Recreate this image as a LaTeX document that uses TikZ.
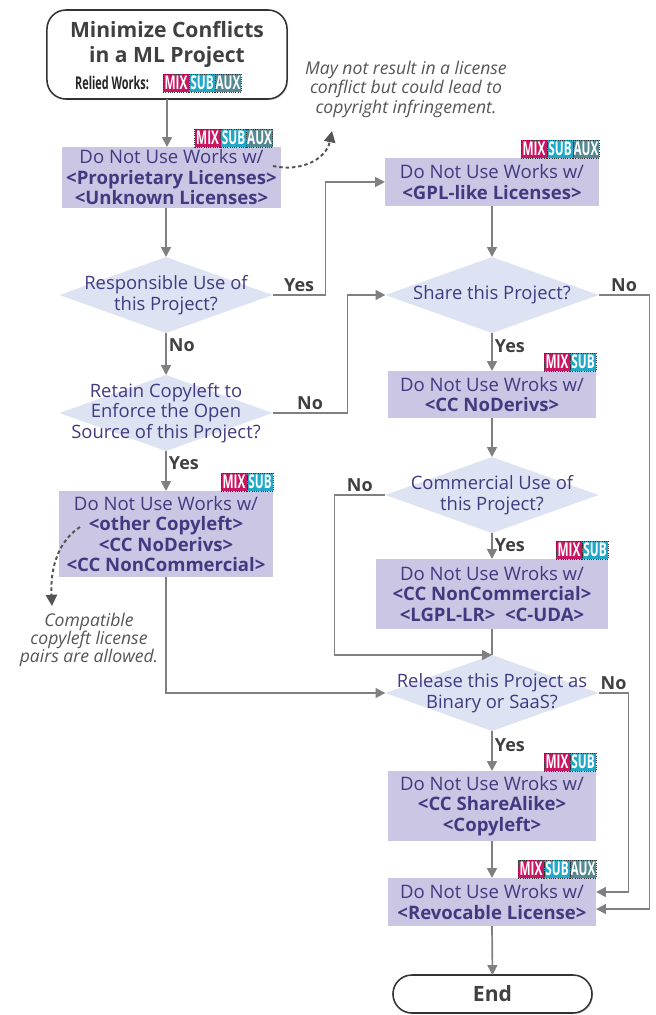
\documentclass[tikz,border=0pt]{standalone}
\usepackage{fontspec}
\setmainfont{Open Sans}
\newfontfamily\tagfont[FakeStretch=0.62]{Open Sans}
\usetikzlibrary{shapes.geometric,arrows.meta,positioning,shadows}

\definecolor{boxfill}{RGB}{203,198,228}
\definecolor{askfill}{RGB}{221,227,243}
\definecolor{boxtext}{RGB}{66,58,128}
\definecolor{labtext}{RGB}{64,64,64}
\definecolor{linegray}{RGB}{128,128,128}
\definecolor{notegray}{RGB}{85,85,85}
\definecolor{mixcol}{RGB}{200,22,98}
\definecolor{subcol}{RGB}{32,168,200}
\definecolor{auxcol}{RGB}{84,136,146}

\tikzset{
  flow/.style={draw=linegray, line width=1.2pt, -{Triangle[length=7pt,width=7pt]}},
  noteflow/.style={draw=notegray, line width=1.4pt, dash pattern=on 2.5pt off 2pt, -{Triangle[length=8pt,width=8pt]}},
  endbox/.style={draw=black!80, line width=1.1pt, fill=white, rounded corners=13.5pt, inner sep=0pt, outer sep=0pt,
    drop shadow={shadow xshift=0.8pt, shadow yshift=-0.8pt, opacity=0.3}},
  rulebox/.style={fill=boxfill, text=boxtext, align=center, inner sep=0pt, outer sep=0pt,
    font=\fontsize{13.2}{14.6}\selectfont},
  askbox/.style={diamond, fill=askfill, inner sep=0pt, outer sep=0pt, minimum width=5.33cm, minimum height=1.9cm},
  asktext/.style={text=boxtext, align=center, font=\fontsize{13.1}{14.6}\selectfont},
  answer/.style={text=labtext, font=\bfseries\fontsize{12.8}{14}\selectfont, inner sep=1.5pt},
  notetext/.style={text=notegray, align=center, font=\itshape\fontsize{12.5}{13.9}\selectfont},
  worktag/.style={text=white, draw=black!80, densely dotted, line width=0.6pt, inner sep=0pt, outer sep=0pt,
    minimum width=0.65cm, minimum height=0.45cm, font=\tagfont\bfseries\fontsize{13.5}{13.5}\selectfont},
  mixtag/.style={worktag, fill=mixcol},
  subtag/.style={worktag, fill=subcol},
  auxtag/.style={worktag, fill=auxcol}
}

\begin{document}
\begin{tikzpicture}[x=0.025cm, y=-0.025cm]
  \useasboundingbox (0,0) rectangle (656,1015);

  % start
  \node[endbox, minimum width=6cm, minimum height=2.225cm] (start) at (167,54.5) {};
  \node[text=labtext, align=center, font=\bfseries\fontsize{15}{17.8}\selectfont] (title) at (167,44.5)
    {Minimize Conflicts\\in a ML Project};
  \node[text=black!85, font=\tagfont\bfseries\fontsize{12.5}{12.5}\selectfont] (relied) at (112,83) {Relied Works:};
  \node[mixtag, anchor=south west] (S0mix) at (163,92) {MIX};
  \node[subtag, right=0pt of S0mix] (S0sub) {SUB};
  \node[auxtag, right=0pt of S0sub] (S0aux) {AUX};

  % left column
  \node[rulebox, minimum width=5.475cm, minimum height=1.525cm] (B1) at (171.5,177.5)
    {Do Not Use Works w/\\\textbf{<Proprietary Licenses>}\\\textbf{<Unknown Licenses>}};
  \node[auxtag, anchor=south east, xshift=-6pt] (B1aux) at (B1.north east) {AUX};
  \node[subtag, left=0pt of B1aux] (B1sub) {SUB};
  \node[mixtag, left=0pt of B1sub] (B1mix) {MIX};

  \node[askbox] (D1) at (166,295) {};
  \node[asktext] at (D1) {Responsible Use of\\this Project?};

  \node[askbox] (D3) at (166,413) {};
  \node[asktext] at (D3) {Retain Copyleft to\\Enforce the Open\\Source of this Project?};

  \node[rulebox, minimum width=5.35cm, minimum height=2.15cm] (B4) at (166,534)
    {Do Not Use Works w/\\\textbf{<other Copyleft>}\\\textbf{<CC NoDerivs>}\\\textbf{<CC NonCommercial>}};
  \node[subtag, anchor=south east] (B4sub) at (B4.north east) {SUB};
  \node[mixtag, left=0pt of B4sub] (B4mix) {MIX};

  % right column
  \node[rulebox, minimum width=5.35cm, minimum height=1.2cm] (B2) at (492,182)
    {Do Not Use Works w/\\\textbf{<GPL-like Licenses>}};
  \node[auxtag, anchor=south east] (B2aux) at (B2.north east) {AUX};
  \node[subtag, left=0pt of B2aux] (B2sub) {SUB};
  \node[mixtag, left=0pt of B2sub] (B2mix) {MIX};

  \node[askbox] (D2) at (492,295) {};
  \node[asktext] at (D2) {Share this Project?};

  \node[rulebox, minimum width=5.2cm, minimum height=1.175cm] (B3) at (492,394.5)
    {Do Not Use Wroks w/\\\textbf{<CC NoDerivs>}};
  \node[subtag, anchor=south east] (B3sub) at (B3.north east) {SUB};
  \node[mixtag, left=0pt of B3sub] (B3mix) {MIX};

  \node[askbox] (D4) at (492,495) {};
  \node[asktext] at (D4) {Commercial Use of\\this Project?};

  \node[rulebox, minimum width=5.8cm, minimum height=1.75cm] (B5) at (492,594)
    {Do Not Use Wroks w/\\\textbf{<CC NonCommercial>}\\\textbf{<LGPL-LR>\ \ <C-UDA>}};
  \node[subtag, anchor=south east] (B5sub) at (B5.north east) {SUB};
  \node[mixtag, left=0pt of B5sub] (B5mix) {MIX};

  \node[askbox] (D5) at (492,693) {};
  \node[asktext] at (D5) {Release this Project as\\Binary or SaaS?};

  \node[rulebox, minimum width=5.2cm, minimum height=1.75cm] (B7) at (492,806)
    {Do Not Use Wroks w/\\\textbf{<CC ShareAlike>}\\\textbf{<Copyleft>}};
  \node[subtag, anchor=south east] (B7sub) at (B7.north east) {SUB};
  \node[mixtag, left=0pt of B7sub] (B7mix) {MIX};

  \node[rulebox, minimum width=5.2cm, minimum height=1.2cm] (B8) at (492,902)
    {Do Not Use Wroks w/\\\textbf{<Revocable License>}};
  \node[auxtag, anchor=south east] (B8aux) at (B8.north east) {AUX};
  \node[subtag, left=0pt of B8aux] (B8sub) {SUB};
  \node[mixtag, left=0pt of B8sub] (B8mix) {MIX};

  \node[endbox, minimum width=4.975cm, minimum height=0.95cm, text=labtext,
    font=\bfseries\fontsize{15}{17}\selectfont] (stop) at (492.5,994) {End};

  % notes
  \node[notetext] (note1) at (406,89) {May not result in a license\\conflict but could lead to\\copyright infringement.};
  \node[notetext, font=\itshape\fontsize{12.5}{12.8}\selectfont] (note2) at (89,640)
    {Compatible\\copyleft license\\pairs are allowed.};
  \coordinate (N1a) at (273,166);
  \coordinate (N1b) at (332,131);
  \coordinate (N2a) at (80,527);
  \coordinate (N2b) at (52,606);
  \draw[noteflow] (N1a) .. controls (300,172) and (326,160) .. (N1b);
  \draw[noteflow] (N2a) .. controls (60,540) and (50,565) .. (N2b);

  % connectors
  \draw[flow] (start.south) -- (start.south |- B1.north);
  \draw[flow] (B1.south -| D1) -- (D1.north);
  \draw[flow] (D1.east) -- node[answer, above] {Yes} ++(53,0) |- (B2.west);
  \draw[flow] (D1.south) -- node[answer, right, pos=0.3] {No} (D3.north);
  \draw[flow] (D3.east) -- node[answer, above] {No} ++(75,0) |- (D2.west);
  \draw[flow] (D3.south) -- node[answer, right, pos=0.3] {Yes} (B4.north);
  \draw[flow] (B4.south) |- (D5.west);
  \draw[flow] (B2.south) -- (D2.north);
  \draw[flow] (D2.east) -- node[answer, above] {No} ++(51,0) |- ([yshift=-5pt]B8.east);
  \draw[flow] (D2.south) -- node[answer, right, pos=0.35] {Yes} (B3.north);
  \draw[flow] (B3.south) -- (D4.north);
  \draw[flow] (D4.west) -- node[answer, above] {No} ++(-51,0) |- (D5.north);
  \draw[flow] (D4.south) -- node[answer, right, pos=0.45] {Yes} (B5.north);
  \draw[flow, -] (B5.south) -- (D5.north);
  \draw[flow] (D5.east) -- node[answer, above] {No} ++(30,0) |- ([yshift=7.1pt]B8.east);
  \draw[flow] (D5.south) -- node[answer, right, pos=0.35] {Yes} (B7.north);
  \draw[flow] (B7.south) -- (B8.north);
  \draw[flow] (B8.south) -- (stop.north);
\end{tikzpicture}
\end{document}
